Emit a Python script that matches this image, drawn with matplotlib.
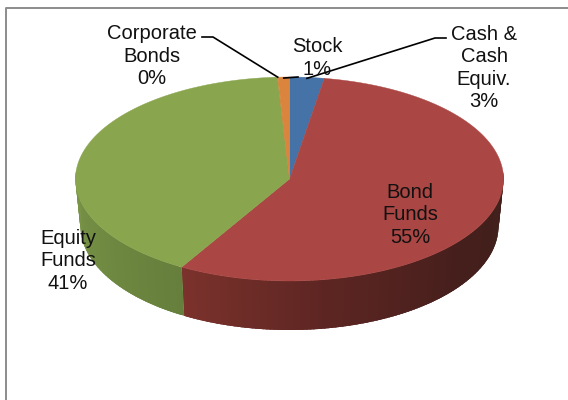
import numpy as np
from matplotlib import pyplot as plt
from matplotlib.patches import Polygon
from matplotlib.colors import LinearSegmentedColormap

plt.rcParams['font.family'] = ['Liberation Sans', 'DejaVu Sans']

labels = ['Cash &\nCash\nEquiv.\n3%', 'Bond\nFunds\n55%', 'Equity\nFunds\n41%', 'Corporate\nBonds\n0%', 'Stock\n1%']
values = [2.6, 55.8, 40.7, 0.05, 0.85]
colors = ['#4572a7', '#aa4643', '#89a54e', '#c98a3f', '#db843d']
# side wall shades, from the clockwise start of the slice to its end
side_shades = {1: ['#40201c', '#451f1c', '#5c2522', '#7c322c'], 2: ['#667f3c', '#7a9648']}
label_pos = [(484, 68), (410, 215), (68, 261), (152, 56), (317, 58)]

cx, cy, rx, ry = 289.5, 179, 214, 102
# bottom edge of the wall is a slightly narrower ellipse
bx, by, brx, bry = 289.5, 226, 209, 104


def rim(theta):
    # theta in degrees, clockwise from the top of the ellipse
    t = np.radians(theta)
    return cx + rx * np.sin(t), cy - ry * np.cos(t)


def low_rim(theta):
    t = np.radians(theta)
    return bx + brx * np.sin(t), by - bry * np.cos(t)


fig = plt.figure(figsize=(5.68, 4.0), dpi=100)
ax = fig.add_axes([0, 0, 1, 1])
ax.set_xlim(0, 568)
ax.set_ylim(400, 0)
ax.axis('off')

# frame, only top and left show
ax.plot([5.5, 5.5, 568], [400, 7.5, 7.5], color='#8c8c8c', lw=1.4, solid_capstyle='butt')

edges = np.concatenate([[0], np.cumsum(values)]) / np.sum(values) * 360

# side wall, later strips overlap the earlier ones so no seams show
for i, shades in side_shades.items():
    cmap = LinearSegmentedColormap.from_list('side', shades)
    a0, a1 = max(edges[i], 85), min(edges[i + 1], 275)
    steps = np.arange(a0, a1, 1.0)
    for a in steps:
        b = np.linspace(a, min(a + 2.5, a1), 5)
        x, y = rim(b)
        x2, y2 = low_rim(b[::-1])
        pts = np.column_stack([np.concatenate([x, x2]), np.concatenate([y, y2])])
        c = cmap((a - a0) / (a1 - a0))
        ax.add_patch(Polygon(pts, closed=True, fc=c, ec='none', zorder=2))

# top face
for i in range(len(values)):
    b = np.linspace(edges[i], edges[i + 1], 200)
    x, y = rim(b)
    pts = np.column_stack([np.concatenate([[cx], x]), np.concatenate([[cy], y])])
    ax.add_patch(Polygon(pts, closed=True, fc=colors[i], ec=colors[i], lw=0.3, zorder=3))

# leader lines run to the middle of their slice on the rim
mid = (edges[:-1] + edges[1:]) / 2
ax.plot([446, 435, rim(mid[0])[0]], [38, 38, rim(mid[0])[1] + 1], color='black', lw=1.2, zorder=4)
ax.plot([202, 213, rim(mid[3])[0]], [37, 37, rim(mid[3])[1]], color='black', lw=1.2, zorder=4)
ax.plot([298, rim(mid[4])[0]], [77, rim(mid[4])[1] + 1], color='black', lw=1.2, zorder=4)

for label, (x, y) in zip(labels, label_pos):
    ax.text(x, y, label, ha='center', va='center', ma='center', fontsize=14.5,
            color='#111111', linespacing=1.24, zorder=5)

fig.savefig('out.png', dpi=100)
